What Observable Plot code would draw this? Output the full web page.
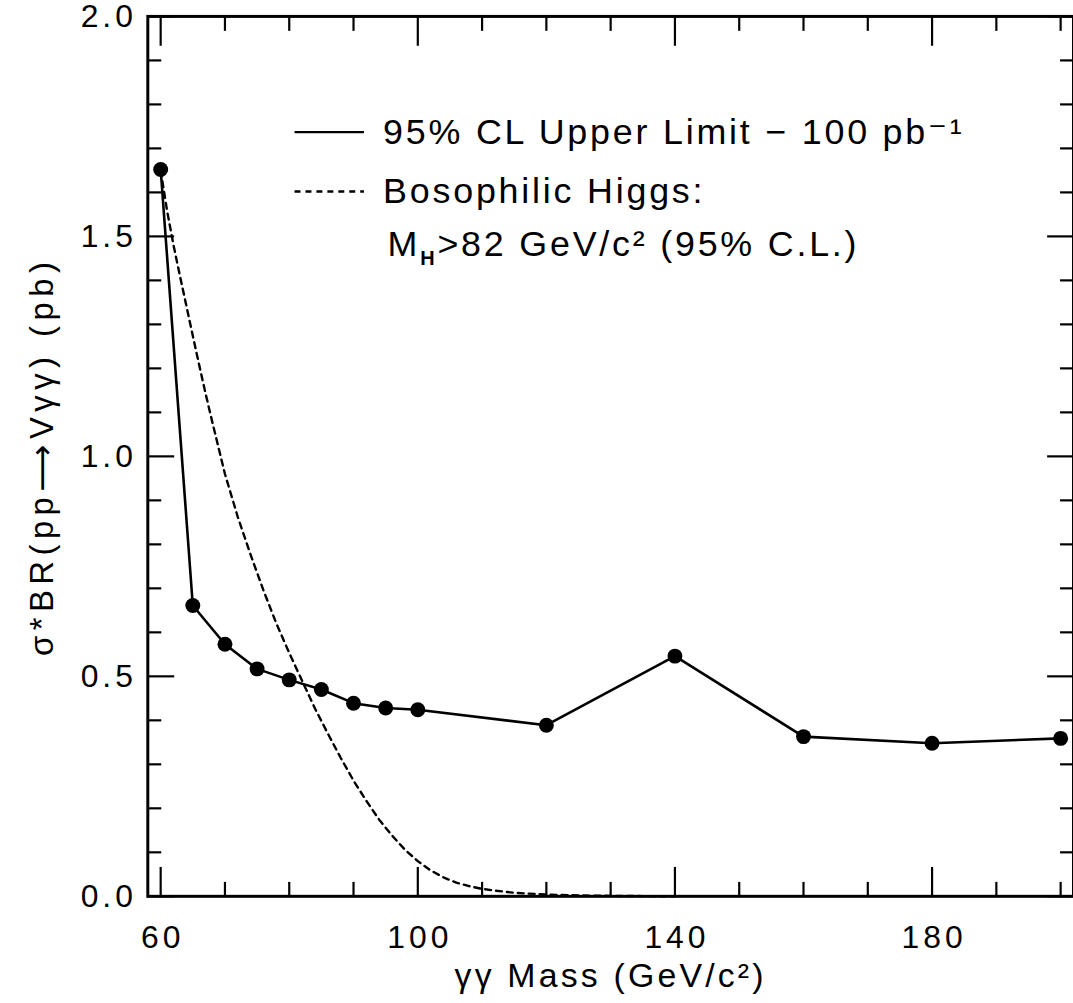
<!DOCTYPE html>
<html>
<head>
<meta charset="utf-8">
<script src="https://cdn.jsdelivr.net/npm/d3@7"></script>
<script src="https://cdn.jsdelivr.net/npm/@observablehq/plot@0.6"></script>
<style>
  html, body { margin: 0; padding: 0; background: #fff; }
  #wrap { width: 1073px; height: 1003px; overflow: hidden; }
  svg text { font-family: "Liberation Sans", "DejaVu Sans", sans-serif; }
</style>
</head>
<body>
<div id="wrap"></div>
<script>
// 95% CL upper limit (solid line with points)
const massPoints = [60, 65, 70, 75, 80, 85, 90, 95, 100, 120, 140, 160, 180, 200];
const upperLimit = [1.652, 0.661, 0.573, 0.517, 0.492, 0.470, 0.439, 0.428, 0.424, 0.389, 0.546, 0.363, 0.348, 0.359];

// Bosophilic Higgs cross section (dashed curve)
const higgsMass = [60, 61, 62, 63, 64, 65, 66, 67, 68, 69, 70, 72, 74, 76, 78, 80, 82, 84, 86, 88, 90, 92, 94, 96, 98, 100, 102, 104, 106, 108, 110, 112, 115, 120, 125, 130, 135, 140];
const higgsXsec = [1.650, 1.558, 1.480, 1.410, 1.342, 1.274, 1.207, 1.142, 1.080, 1.020, 0.960, 0.862, 0.776, 0.695, 0.620, 0.553, 0.490, 0.427, 0.370, 0.315, 0.263, 0.217, 0.174, 0.138, 0.106, 0.080, 0.059, 0.043, 0.031, 0.023, 0.017, 0.013, 0.008, 0.004, 0.002, 0.001, 0.0005, 0.0];

// axis ticks
const xTicksMinor = [70, 80, 90, 110, 120, 130, 150, 160, 170, 190, 200];
const xTicksMajor = [60, 100, 140, 180];
const yTicksMinor = [0.1, 0.2, 0.3, 0.4, 0.6, 0.7, 0.8, 0.9, 1.1, 1.2, 1.3, 1.4, 1.6, 1.7, 1.8, 1.9];
const yTicksMajor = [0.0, 0.5, 1.0, 1.5, 2.0];

// legend and titles
const legendLabels = ["95% CL Upper Limit \u2212 100 pb\u207B\u00B9", "Bosophilic Higgs:", "MH>82 GeV/c\u00B2 (95% C.L.)"];
const xTitle = "\u03B3\u03B3 Mass (GeV/c\u00B2)";
const yTitle = "\u03C3*BR(pp\u27F6V\u03B3\u03B3) (pb)";

const limitData = massPoints.map((m, i) => ({m, v: upperLimit[i]}));
const higgsData = higgsMass.map((m, i) => ({m, v: higgsXsec[i]}));

const tickStyle = {strokeWidth: 2.2, tickFormat: null, text: null, fill: "none", label: null};

const chart = Plot.plot({
  width: 1078,
  height: 1003,
  marginLeft: 148,
  marginRight: 0,
  marginTop: 16,
  marginBottom: 103,
  x: {domain: [58, 202]},
  y: {domain: [0, 2]},
  style: {fontSize: "32px", fontFamily: "Liberation Sans, DejaVu Sans, sans-serif", color: "#000", background: "#fff"},
  marks: [
    // inward ticks: bottom/top
    Plot.axisX(xTicksMinor, {anchor: "bottom", tickSize: -14, ...tickStyle}),
    Plot.axisX(xTicksMajor, {anchor: "bottom", tickSize: -29, ...tickStyle}),
    Plot.axisX(xTicksMinor, {anchor: "top", tickSize: -14, ...tickStyle}),
    Plot.axisX(xTicksMajor, {anchor: "top", tickSize: -29, ...tickStyle}),
    // inward ticks: left/right
    Plot.axisY(yTicksMinor, {anchor: "left", tickSize: -14, ...tickStyle}),
    Plot.axisY(yTicksMajor, {anchor: "left", tickSize: -27, ...tickStyle}),
    Plot.axisY(yTicksMinor, {anchor: "right", tickSize: -14, ...tickStyle}),
    Plot.axisY(yTicksMajor, {anchor: "right", tickSize: -27, ...tickStyle}),
    // tick labels
    Plot.axisX(xTicksMajor, {anchor: "bottom", tickSize: 0, tickPadding: 29, label: null, fontSize: 32, dx: 2, tickFormat: d => String(d), className: "ticklab"}),
    Plot.axisY(yTicksMajor, {anchor: "left", tickSize: 0, tickPadding: 11, label: null, fontSize: 32, tickFormat: d3.format(".1f"), className: "ticklab"}),
    Plot.frame({stroke: "#000", strokeWidth: 3}),
    // dashed Higgs curve
    Plot.line(higgsData, {x: "m", y: "v", stroke: "#000", strokeWidth: 2.4, strokeDasharray: "6,5"}),
    // upper limit
    Plot.line(limitData, {x: "m", y: "v", stroke: "#000", strokeWidth: 2.6}),
    Plot.dot(limitData, {x: "m", y: "v", r: 7.5, fill: "#000", stroke: null}),
    // legend
    Plot.ruleY([1.737], {x1: 80.9, x2: 91.7, stroke: "#000", strokeWidth: 2.4}),
    Plot.ruleY([1.602], {x1: 80.9, x2: 91.7, stroke: "#000", strokeWidth: 2.4, strokeDasharray: "6,5"}),
    Plot.text([legendLabels[0]], {x: 94.6, y: 1.737, text: d => d, textAnchor: "start", fontSize: 36, className: "leg"}),
    Plot.text([legendLabels[1]], {x: 94.6, y: 1.602, text: d => d, textAnchor: "start", fontSize: 36, className: "leg"}),
    Plot.text([legendLabels[2]], {x: 95.3, y: 1.482, text: d => d, textAnchor: "start", fontSize: 36, className: "leg"}),
    // axis titles
    Plot.text([xTitle], {frameAnchor: "bottom", dy: 91, text: d => d, fontSize: 34, className: "xt"}),
    Plot.text([yTitle], {frameAnchor: "left", dx: -106, rotate: -90, textAnchor: "middle", lineAnchor: "middle", text: d => d, fontSize: 33, className: "yt"})
  ]
});

// letter spacing to mimic the wide-set plotting font
d3.select(chart).selectAll(".ticklab text").style("letter-spacing", "4px");
d3.select(chart).selectAll(".leg text").style("letter-spacing", "2.8px");
d3.select(chart).selectAll(".xt text").style("letter-spacing", "3.2px");
d3.select(chart).selectAll(".yt text").style("letter-spacing", "5.5px");

// subscript H in M_H
d3.select(chart).selectAll("text").each(function() {
  const t = d3.select(this);
  if (t.text() === legendLabels[2]) {
    t.text(null);
    t.append("tspan").text("M");
    t.append("tspan").attr("font-size", 20).attr("font-weight", "bold").attr("dy", 9).text("H");
    t.append("tspan").attr("dy", -9).text(legendLabels[2].slice(2));
  }
});

document.getElementById("wrap").appendChild(chart);
</script>
</body>
</html>
